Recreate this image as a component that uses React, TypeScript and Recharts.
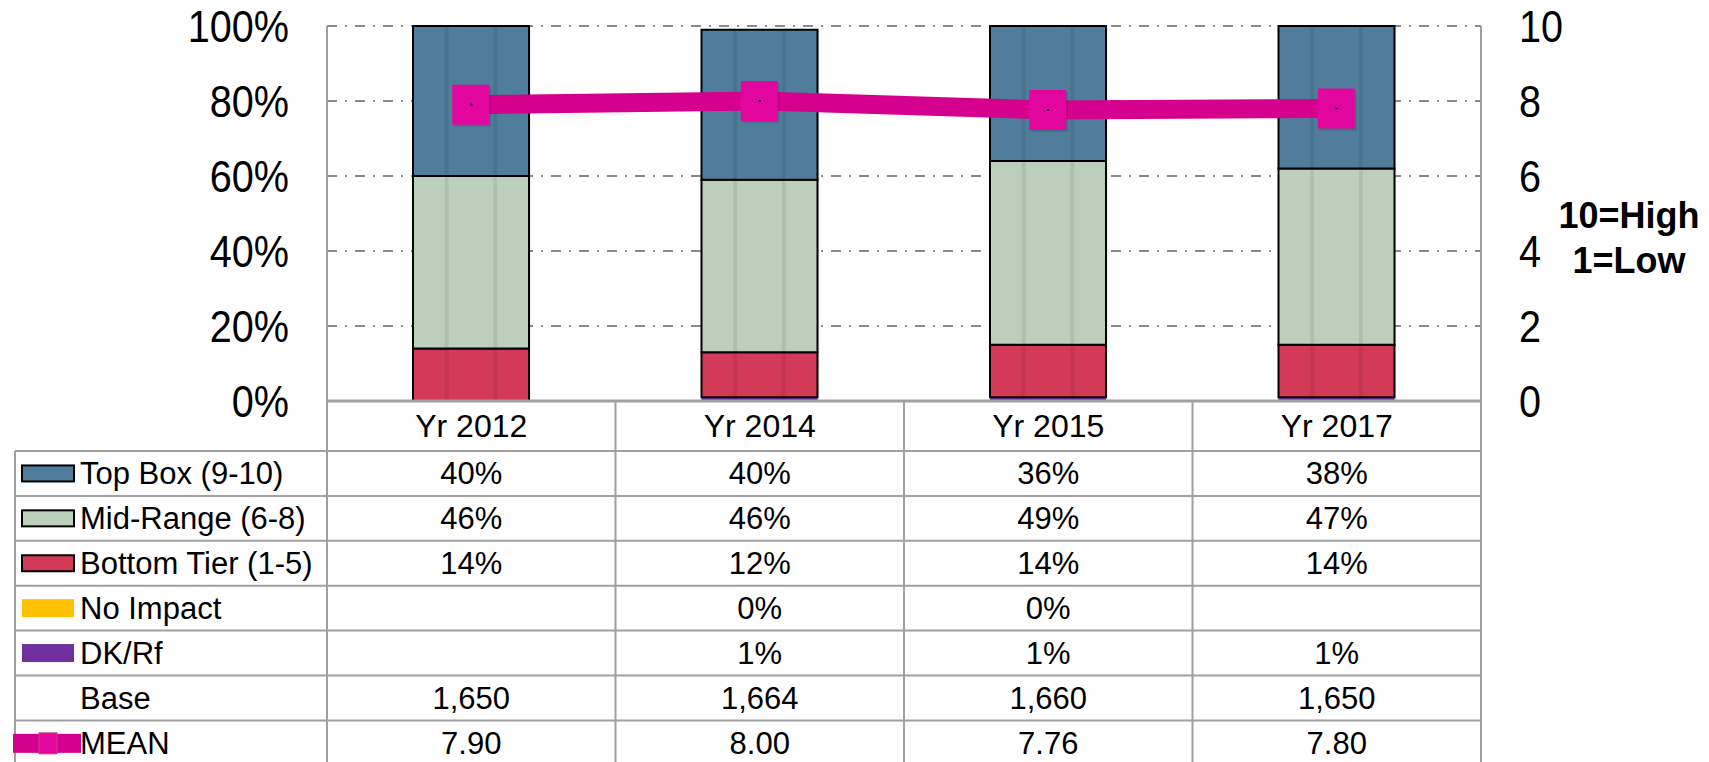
import React from 'react';
import {
  ComposedChart,
  Bar,
  Line,
  XAxis,
  YAxis,
  CartesianGrid,
  Customized,
} from 'recharts';

const years = ['Yr 2012', 'Yr 2014', 'Yr 2015', 'Yr 2017'];
const topBox = [40, 40, 36, 38];
const midRange = [46, 46, 49, 47];
const bottomTier = [14, 12, 14, 14];
const noImpact: (number | null)[] = [null, 0, 0, null];
const dkRf: (number | null)[] = [null, 1, 1, 1];
const base = [1650, 1664, 1660, 1650];
const mean = [7.9, 8.0, 7.76, 7.8];

const pctTicks = [0, 20, 40, 60, 80, 100];
const meanTicks = [0, 2, 4, 6, 8, 10];

const COLORS = {
  top: '#4F7D9B',
  mid: '#BCCFBB',
  bottom: '#D23A57',
  noImpact: '#FFC000',
  dk: '#7030A0',
  mean: '#D6008F',
  meanMarker: '#E2069F',
};

const FONT = '"Liberation Sans", Arial, sans-serif';
const LINE = '#a0a0a0';

// layout
const W = 1709;
const H = 762;
const PLOT_L = 327;
const PLOT_R = 1481;
const PLOT_T = 26;
const PLOT_B = 401;
const TABLE_L = 15;
const HEADER_B = 451;
const ROW_H = 44.9;

const data = years.map((year, i) => ({
  year,
  top: topBox[i],
  mid: midRange[i],
  bottom: bottomTier[i],
  noImpact: noImpact[i],
  dk: dkRf[i],
  mean: mean[i],
}));

const pct = (v: number | null) => (v === null ? '' : `${v}%`);

const rows = [
  { label: 'Top Box (9-10)', kind: 'box', color: COLORS.top, values: topBox.map(pct) },
  { label: 'Mid-Range (6-8)', kind: 'box', color: COLORS.mid, values: midRange.map(pct) },
  { label: 'Bottom Tier (1-5)', kind: 'box', color: COLORS.bottom, values: bottomTier.map(pct) },
  { label: 'No Impact', kind: 'flat', color: COLORS.noImpact, values: noImpact.map(pct) },
  { label: 'DK/Rf', kind: 'flat', color: COLORS.dk, values: dkRf.map(pct) },
  { label: 'Base', kind: 'none', color: '', values: base.map((v) => v.toLocaleString('en-US')) },
  { label: 'MEAN', kind: 'line', color: COLORS.mean, values: mean.map((v) => v.toFixed(2)) },
];

const StripedBar = (props: any) => {
  const { x, y, width, height, fill, outline } = props;
  if (!height || height <= 0) return null;
  const s1 = x + width * 0.29;
  const s2 = x + width * 0.71;
  return (
    <g>
      <rect x={x + 2} y={y + 1} width={width} height={height} fill="#000" opacity={0.06} />
      <rect x={x} y={y} width={width} height={height} fill={fill} />
      <rect x={s1 - 2} y={y} width={4} height={height} fill="#000" opacity={0.07} />
      <rect x={s2 - 2} y={y} width={4} height={height} fill="#000" opacity={0.07} />
      {outline && (
        <rect x={x} y={y} width={width} height={height} fill="none" stroke="#000" strokeWidth={2} />
      )}
    </g>
  );
};

const MeanDot = (props: any) => {
  const { cx, cy } = props;
  if (cx == null || cy == null) return null;
  return (
    <g>
      <rect x={cx - 17} y={cy - 18} width={37} height={40} fill="#000" opacity={0.12} />
      <rect x={cx - 19} y={cy - 20} width={37} height={40} fill={COLORS.meanMarker} />
      <rect x={cx - 1} y={cy - 1} width={2} height={2} fill="#000" />
    </g>
  );
};

// axis numbers are slightly condensed in the source, so squeeze them horizontally
const AxisTick = (props: any) => {
  const { x, y, payload, textAnchor, suffix } = props;
  return (
    <text
      transform={`translate(${x},${y}) scale(0.9,1)`}
      textAnchor={textAnchor}
      dy="0.355em"
      fontSize={44}
      fontFamily={FONT}
      fill="#000"
    >
      {`${payload.value}${suffix || ''}`}
    </text>
  );
};

const TableTick = (props: any) => {
  const { x, index, payload } = props;
  return (
    <g fontFamily={FONT} fill="#000">
      <text x={x} y={437} textAnchor="middle" fontSize={32} fill="#000">
        {payload.value}
      </text>
      {rows.map((r, i) => (
        <text
          key={r.label}
          x={x}
          y={HEADER_B + ROW_H * i + ROW_H / 2 + 11}
          textAnchor="middle"
          fontSize={31}
          fill="#000"
        >
          {r.values[index]}
        </text>
      ))}
    </g>
  );
};

const TableFrame = () => {
  const colW = (PLOT_R - PLOT_L) / years.length;
  const bottom = HEADER_B + ROW_H * rows.length;
  return (
    <g fontFamily={FONT}>
      {years.map((_, i) => (
        <line
          key={i}
          x1={PLOT_L + colW * i}
          x2={PLOT_L + colW * i}
          y1={PLOT_B}
          y2={bottom}
          stroke={LINE}
          strokeWidth={2}
        />
      ))}
      <line x1={PLOT_R} x2={PLOT_R} y1={PLOT_B} y2={bottom} stroke={LINE} strokeWidth={2} />
      <line x1={TABLE_L} x2={TABLE_L} y1={HEADER_B} y2={bottom} stroke={LINE} strokeWidth={2} />
      {rows.map((_, i) => (
        <line
          key={i}
          x1={TABLE_L}
          x2={PLOT_R}
          y1={HEADER_B + ROW_H * i}
          y2={HEADER_B + ROW_H * i}
          stroke={LINE}
          strokeWidth={2}
        />
      ))}
      {rows.map((r, i) => {
        const cy = HEADER_B + ROW_H * i + ROW_H / 2;
        return (
          <g key={r.label}>
            {r.kind === 'box' && (
              <rect x={22} y={cy - 8} width={52} height={16} fill={r.color} stroke="#000" strokeWidth={2} />
            )}
            {r.kind === 'flat' && <rect x={22} y={cy - 9} width={52} height={18} fill={r.color} />}
            {r.kind === 'line' && (
              <g>
                <rect x={13} y={cy - 9} width={68} height={19} fill={COLORS.mean} />
                <rect x={39} y={cy - 10} width={18} height={21} fill={COLORS.meanMarker} stroke="#c0407f" strokeWidth={1} />
              </g>
            )}
            <text x={80} y={cy + 11} fontSize={31} fill="#000">
              {r.label}
            </text>
          </g>
        );
      })}
      <text x={1629} y={228} textAnchor="middle" fontSize={36} fontWeight="bold" fill="#000">
        10=High
      </text>
      <text x={1629} y={273} textAnchor="middle" fontSize={36} fontWeight="bold" fill="#000">
        1=Low
      </text>
    </g>
  );
};

export default function App() {
  return (
    <div style={{ width: W, height: H, background: '#fff' }}>
      <style>{'body{margin:0;}'}</style>
      <ComposedChart
        width={W}
        height={H}
        data={data}
        margin={{ top: PLOT_T, right: 0, bottom: 0, left: 0 }}
        barSize={116}
      >
        <CartesianGrid
          yAxisId="pct"
          vertical={false}
          stroke="#8a8a8a"
          strokeWidth={2}
          strokeDasharray="10 8 2 8"
        />
        <XAxis
          dataKey="year"
          height={H - PLOT_B}
          axisLine={{ stroke: LINE, strokeWidth: 3 }}
          tickLine={false}
          tickSize={0}
          tickMargin={0}
          interval={0}
          tick={<TableTick />}
        />
        <YAxis
          yAxisId="pct"
          width={PLOT_L}
          domain={[0, 100]}
          ticks={pctTicks}
          axisLine={{ stroke: LINE, strokeWidth: 2 }}
          tickLine={false}
          tickSize={0}
          tickMargin={38}
          tick={<AxisTick suffix="%" />}
        />
        <YAxis
          yAxisId="mean"
          orientation="right"
          width={W - PLOT_R}
          domain={[0, 10]}
          ticks={meanTicks}
          axisLine={{ stroke: LINE, strokeWidth: 2 }}
          tickLine={false}
          tickSize={0}
          tickMargin={38}
          tick={<AxisTick />}
        />
        <Bar yAxisId="pct" dataKey="dk" stackId="s" fill={COLORS.dk} isAnimationActive={false} shape={<StripedBar />} />
        <Bar yAxisId="pct" dataKey="noImpact" stackId="s" fill={COLORS.noImpact} isAnimationActive={false} shape={<StripedBar />} />
        <Bar yAxisId="pct" dataKey="bottom" stackId="s" fill={COLORS.bottom} isAnimationActive={false} shape={<StripedBar outline />} />
        <Bar yAxisId="pct" dataKey="mid" stackId="s" fill={COLORS.mid} isAnimationActive={false} shape={<StripedBar outline />} />
        <Bar yAxisId="pct" dataKey="top" stackId="s" fill={COLORS.top} isAnimationActive={false} shape={<StripedBar outline />} />
        <Line
          yAxisId="mean"
          dataKey="mean"
          stroke={COLORS.mean}
          strokeWidth={19}
          dot={<MeanDot />}
          activeDot={false}
          isAnimationActive={false}
        />
        <Customized component={TableFrame} />
      </ComposedChart>
    </div>
  );
}
